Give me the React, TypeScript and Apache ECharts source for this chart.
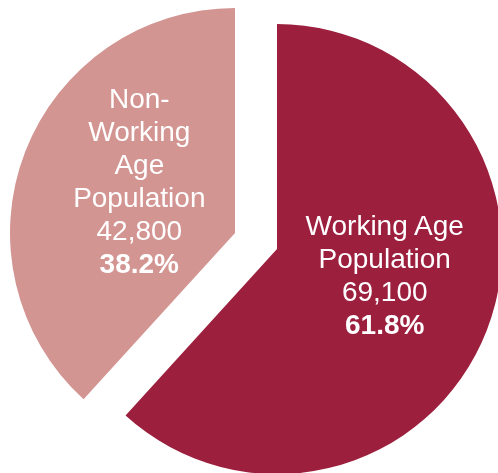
import React, { useEffect, useRef } from "react";
import * as echarts from "echarts";

const categories = ["Working Age Population", "Non-Working Age Population"];
const labelLines = [["Working Age", "Population"], ["Non-", "Working", "Age", "Population"]];
const values = [69100, 42800];
const valueLabels = ["69,100", "42,800"];
const percentLabels = ["61.8%", "38.2%"];
const colors = ["#9C1F3E", "#D39592"];

export default function App() {
  const ref = useRef<HTMLDivElement>(null);
  useEffect(() => {
    if (!ref.current) return;
    const chart = echarts.init(ref.current, null, { renderer: "svg" });
    const font = "'Liberation Sans', Arial, sans-serif";
    const paddings = [
      [0, 0, 32, 0],
      [0, 0, 20, 24],
    ];
    chart.setOption({
      animation: false,
      series: [
        {
          type: "pie",
          silent: true,
          center: [256, 241],
          radius: [0, 225],
          startAngle: 90,
          clockwise: true,
          selectedMode: "multiple",
          selectedOffset: 22.5,
          avoidLabelOverlap: false,
          emphasis: { disabled: true },
          label: {
            show: true,
            position: "inside",
            color: "#ffffff",
            fontFamily: font,
          },
          labelLine: { show: false },
          data: categories.map((c, i) => ({
            name: c,
            value: values[i],
            selected: true,
            itemStyle: { color: colors[i], borderWidth: 0 },
            select: { itemStyle: { color: colors[i], borderWidth: 0 } },
            label: {
              padding: paddings[i],
              formatter: () =>
                [
                  ...labelLines[i].map((l) => `{n|${l}}`),
                  `{n|${valueLabels[i]}}`,
                  `{b|${percentLabels[i]}}`,
                ].join("\n"),
              rich: {
                n: { fontSize: 28, lineHeight: 33, color: "#ffffff", fontFamily: font },
                b: { fontSize: 28, lineHeight: 33, fontWeight: "bold", color: "#ffffff", fontFamily: font },
              },
            },
          })),
        },
      ],
    });
    return () => chart.dispose();
  }, []);
  return (
    <div
      ref={ref}
      style={{ position: "fixed", left: 0, top: 0, width: 498, height: 473 }}
    />
  );
}
